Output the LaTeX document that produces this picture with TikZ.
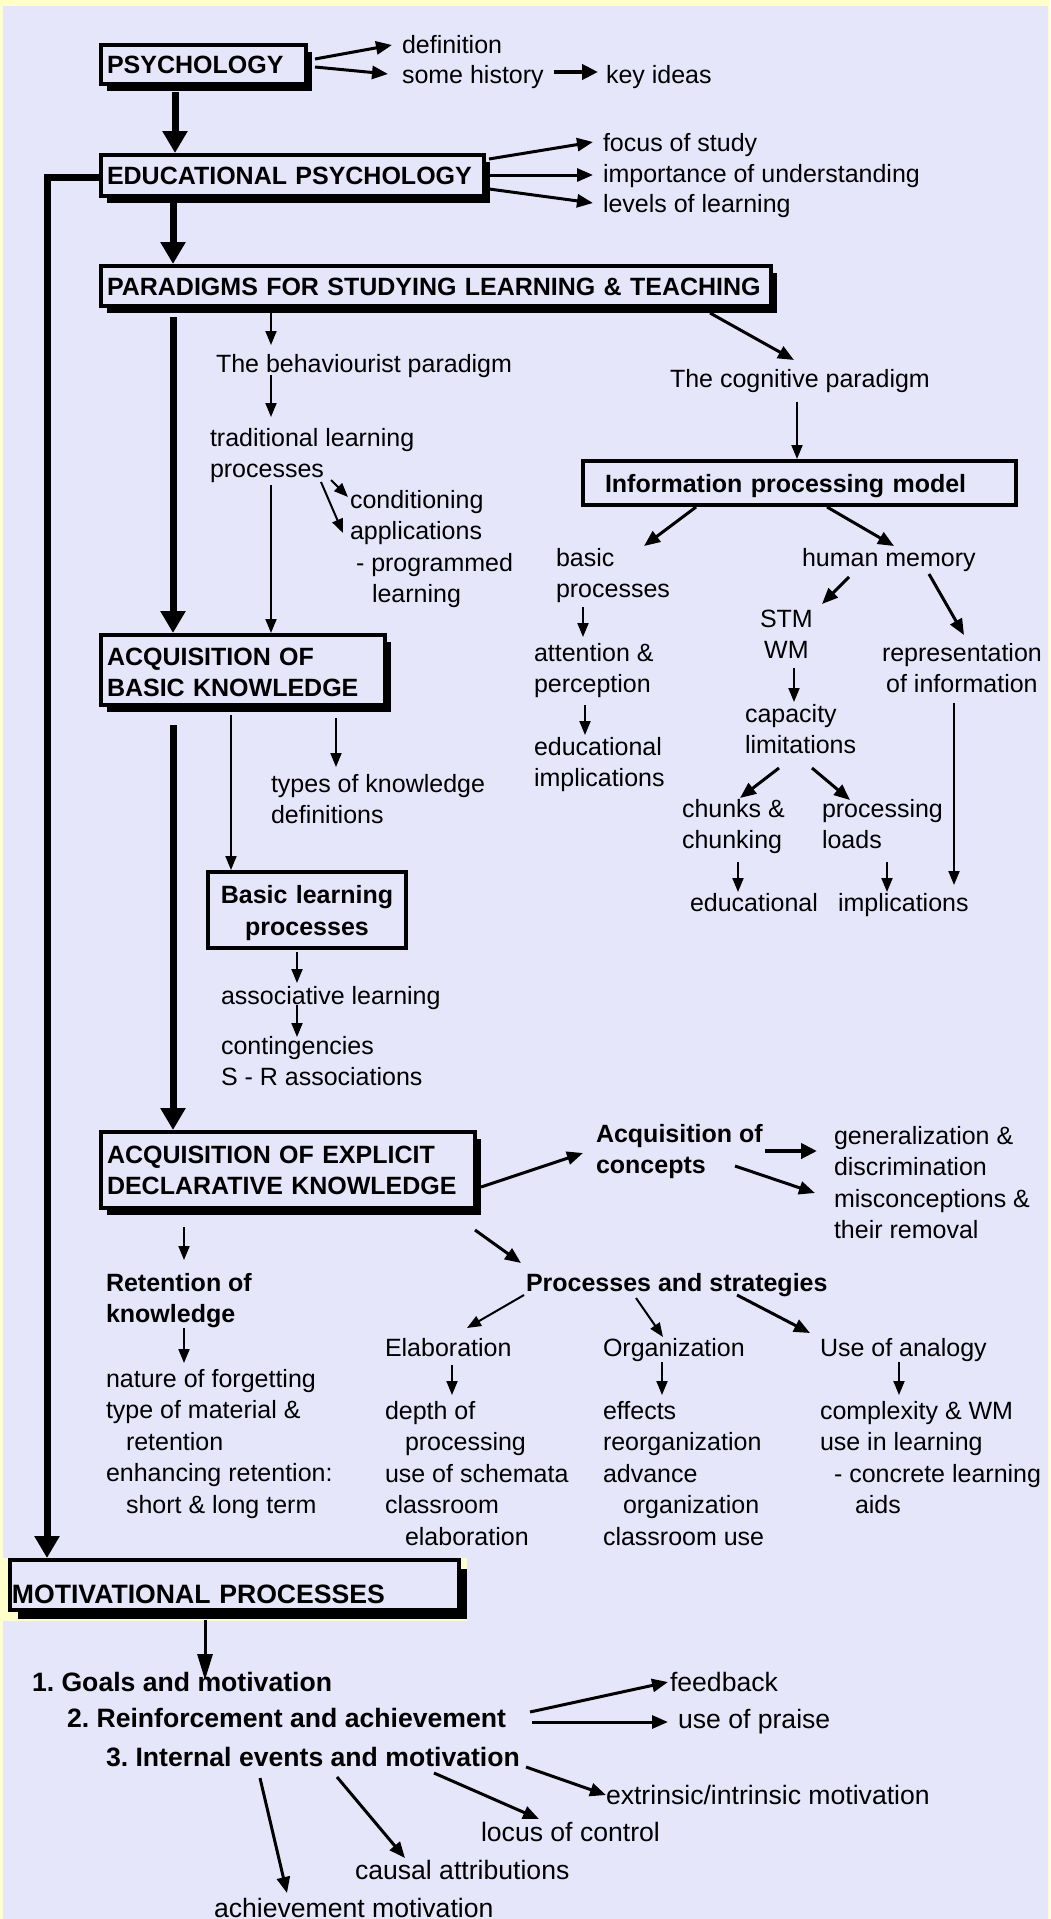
\documentclass[tikz,border=0pt]{standalone}
\usepackage{fontspec}
\setmainfont{Liberation Sans}
\usetikzlibrary{arrows.meta,calc,shadows}
\definecolor{bgyel}{HTML}{FFFFCC}
\definecolor{bglav}{HTML}{E6E6FA}
\newcommand\rf{\fontsize{25}{31.5}\selectfont\frenchspacing}
\newcommand\rfL{\fontsize{26.6}{33}\selectfont\frenchspacing}
\newcommand\stt{\rule{0pt}{19pt}}
\newcommand\sttL{\rule{0pt}{20pt}}
\frenchspacing
\begin{document}
\begin{tikzpicture}[x=1pt,y=-1pt,
  txt/.style={anchor=north west, inner sep=0pt, outer sep=0pt, align=left, font=\rf},
  btxt/.style={txt, font=\rf\bfseries},
  txtL/.style={txt, font=\rfL},
  btxtL/.style={txt, font=\rfL\bfseries},
  box/.style={draw, line width=4pt, fill=bglav, anchor=north west, outer sep=0pt,
    inner ysep=0pt, inner xsep=6pt, align=left, font=\rf\bfseries},
  shad/.style={general shadow={fill=black, shadow xshift=6pt, shadow yshift=-7pt}},
  oneline/.style={text height=18pt, text depth=0pt},
  a1/.style={line width=2pt, -{Triangle[length=14pt,width=11pt]}},
  a2/.style={line width=3pt, -{Triangle[length=16pt,width=13pt]}},
  a3/.style={line width=4.5pt, -{Triangle[length=16pt,width=15pt]}},
  am/.style={line width=3pt, -{Triangle[length=26pt,width=15pt]}},
  aT/.style={line width=7pt, -{Triangle[length=22pt,width=24pt]}}
]
\useasboundingbox (0,0) rectangle (1050,1919);
\fill[bgyel] (0,0) rectangle (1050,1919);
\fill[bglav] (3,6) rectangle (1048,1919);
\fill[bgyel] (0,1558) rectangle (467,1621);

% ---------- boxes ----------
\node[box, shad, oneline, minimum width=205pt, minimum height=39pt, text width=193pt] (psych) at (101,45) {PSYCHOLOGY};
\node[box, shad, oneline, minimum width=383pt, minimum height=41pt, text width=371pt] (edu) at (101,155) {EDUCATIONAL PSYCHOLOGY};
\node[box, shad, oneline, minimum width=670pt, minimum height=40pt, text width=658pt] (para) at (101,266) {PARADIGMS FOR STUDYING LEARNING \& TEACHING};
\node[box, shad, minimum width=284pt, minimum height=70pt, text width=272pt] (acqb) at (101,635) {\rule{0pt}{22pt}ACQUISITION OF\\BASIC KNOWLEDGE};
\node[box, line width=4.5pt, oneline, inner xsep=22pt, minimum width=433pt, minimum height=44pt, text width=389pt] (infop) at (583,461) {Information processing model};
\node[box, align=center, minimum width=198pt, minimum height=76pt, text width=186pt] (blp) at (208,872) {\rule{0pt}{24pt}Basic learning\\processes};
\node[box, shad, minimum width=374pt, minimum height=76pt, text width=362pt] (acqe) at (101,1132) {\rule{0pt}{18pt}ACQUISITION OF EXPLICIT\\DECLARATIVE KNOWLEDGE};
\node[box, font=\rfL\bfseries, general shadow={fill=black, shadow xshift=8pt, shadow yshift=-9pt}, text height=36pt, text depth=0pt, inner xsep=2pt, minimum width=449pt, minimum height=50pt, text width=445pt] (motiv) at (10,1560) {MOTIVATIONAL PROCESSES};

% ---------- text ----------
\node[txt] (def) at (402,35) {\stt definition};
\node[txt] (hist) at (402,65) {\stt some history};
\node[txt] (key) at (606,65) {\stt key ideas};
\node[txt] (focus) at (603,132) {\stt focus of study};
\node[txt] (imp) at (603,163) {\stt importance of understanding};
\node[txt] (levels) at (603,193) {\stt levels of learning};
\node[txt] (behav) at (216,353) {\stt The behaviourist paradigm};
\node[txt] (trad) at (210,427) {\stt traditional learning\\processes};
\node[txt] (cond) at (350,489) {\stt conditioning\\applications\\\hspace*{6pt}- programmed\\\hspace*{22pt}learning};
\node[txt] (cog) at (670,368) {\stt The cognitive paradigm};
\node[txt] (basic) at (556,547) {\stt basic\\processes};
\node[txt] (attn) at (534,642) {\stt attention \&\\perception};
\node[txt] (edimp) at (534,736) {\stt educational\\implications};
\node[txt] (hm) at (802,547) {\stt human memory};
\node[txt, align=center] (stm) at (760,608) {\stt STM\\WM};
\node[txt, align=center] (rep) at (882,642) {\stt representation\\of information};
\node[txt] (cap) at (745,703) {\stt capacity\\limitations};
\node[txt] (chunks) at (682,798) {\stt chunks \&\\chunking};
\node[txt] (procl) at (822,798) {\stt processing\\loads};
\node[txt] (educ) at (690,892) {\stt educational};
\node[txt] (impl) at (838,892) {\stt implications};
\node[txt] (types) at (271,773) {\stt types of knowledge\\definitions};
\node[txt] (assoc) at (221,985) {\stt associative learning};
\node[txt] (cont) at (221,1035) {\stt contingencies\\S - R associations};
\node[btxt] (acqc) at (596,1123) {\stt Acquisition of\\concepts};
\node[txt] (gen) at (834,1125) {\stt generalization \&\\discrimination\\misconceptions \&\\their removal};
\node[btxt] (ret) at (106,1272) {\stt Retention of\\knowledge};
\node[txt] (nat) at (106,1368) {\stt nature of forgetting\\type of material \&\\\hspace*{20pt}retention\\enhancing retention:\\\hspace*{20pt}short \& long term};
\node[btxt] (ps) at (526,1272) {\stt Processes and strategies};
\node[txt] (elab) at (385,1337) {\stt Elaboration};
\node[txt] (org) at (603,1337) {\stt Organization};
\node[txt] (ana) at (820,1337) {\stt Use of analogy};
\node[txt] (depth) at (385,1400) {\stt depth of\\\hspace*{20pt}processing\\use of schemata\\classroom\\\hspace*{20pt}elaboration};
\node[txt] (eff) at (603,1400) {\stt effects\\reorganization\\advance\\\hspace*{20pt}organization\\classroom use};
\node[txt] (comp) at (820,1400) {\stt complexity \& WM\\use in learning\\\hspace*{14pt}- concrete learning\\\hspace*{35pt}aids};
\node[btxtL] (goals) at (32,1671) {\sttL 1. Goals and motivation};
\node[btxtL] (reinf) at (67,1707) {\sttL 2. Reinforcement and achievement};
\node[btxtL] (internal) at (106,1746) {\sttL 3. Internal events and motivation};
\node[txtL] (feedback) at (670,1671) {\sttL feedback};
\node[txtL] (praise) at (678,1708) {\sttL use of praise};
\node[txtL] (extr) at (606,1784) {\sttL extrinsic/intrinsic motivation};
\node[txtL] (locus) at (481,1821) {\sttL locus of control};
\node[txtL] (causal) at (355,1859) {\sttL causal attributions};
\node[txtL] (achmot) at (214,1897) {\sttL achievement motivation};

% ---------- connectors ----------
\draw[a2] ($(psych.north west)+(214,14)$) -- ($(def.north west)+(-10,10)$);
\draw[a2] ($(psych.north west)+(214,22)$) -- ($(hist.north west)+(-14,9)$);
\draw[a3] ($(hist.north west)+(152,7)$) -- ($(key.north west)+(-8,7)$);
\draw[aT] ($(psych.north west)+(74,47)$) -- ($(edu.north west)+(74,-2)$);
\draw[a2] ($(edu.north west)+(388,4)$) -- ($(focus.north west)+(-10,10)$);
\draw[a2] ($(edu.north west)+(388,20)$) -- ($(imp.north west)+(-10,12)$);
\draw[a2] ($(edu.north west)+(388,34)$) -- ($(levels.north west)+(-10,10)$);
\draw[aT] ($(edu.north west)+(72,47)$) -- ($(para.north west)+(72,-2)$);
\draw[aT] ($(edu.north west)+(-2,22)$) -| ($(motiv.north west)+(37,-2)$);
\draw[aT] ($(para.north west)+(72,51)$) -- ($(acqb.north west)+(72,-2)$);
\draw[a1] ($(para.north west)+(170,47)$) -- ($(behav.north west)+(55,-8)$);
\draw[a1] ($(behav.north west)+(55,22)$) -- ($(trad.north west)+(61,-10)$);
\draw[a1] ($(trad.north west)+(61,58)$) -- ($(acqb.north west)+(170,-2)$);
\draw[a1] ($(trad.north west)+(121,53)$) -- ($(cond.north west)+(-2,8)$);
\draw[a1] ($(trad.north west)+(111,55)$) -- ($(cond.north west)+(-7,44)$);
\draw[a2] ($(para.north west)+(609,47)$) -- ($(cog.north west)+(124,-8)$);
\draw[a1] ($(cog.north west)+(127,34)$) -- ($(infop.north west)+(214,-2)$);
\draw[a2] ($(infop.north west)+(113,46)$) -- ($(basic.north west)+(88,-1)$);
\draw[a2] ($(infop.north west)+(244,46)$) -- ($(hm.north west)+(92,-1)$);
\draw[a1] ($(basic.north west)+(27,60)$) -- ($(attn.north west)+(49,-5)$);
\draw[a1] ($(attn.north west)+(51,63)$) -- ($(edimp.north west)+(51,-1)$);
\draw[a2] ($(hm.north west)+(47,30)$) -- ($(stm.north west)+(62,-4)$);
\draw[a2] ($(hm.north west)+(127,27)$) -- ($(rep.north west)+(82,-7)$);
\draw[a1] ($(stm.north west)+(34,60)$) -- ($(cap.north west)+(49,-1)$);
\draw[a1] ($(rep.north west)+(72,61)$) -- ($(impl.north west)+(116,-7)$);
\draw[a2] ($(cap.north west)+(34,65)$) -- ($(chunks.north west)+(58,0)$);
\draw[a2] ($(cap.north west)+(67,65)$) -- ($(procl.north west)+(28,2)$);
\draw[a1] ($(chunks.north west)+(56,64)$) -- ($(educ.north west)+(48,0)$);
\draw[a1] ($(procl.north west)+(65,64)$) -- ($(impl.north west)+(49,0)$);
\draw[a1] ($(acqb.north west)+(130,80)$) -- ($(blp.north west)+(23,-2)$);
\draw[a1] ($(acqb.north west)+(235,83)$) -- ($(types.north west)+(65,-6)$);
\draw[a1] ($(blp.north west)+(89,80)$) -- ($(assoc.north west)+(76,-2)$);
\draw[a1] ($(assoc.north west)+(76,20)$) -- ($(cont.north west)+(76,2)$);
\draw[aT] ($(acqb.north west)+(72,90)$) -- ($(acqe.north west)+(72,-2)$);
\draw[a2] ($(acqe.north west)+(380,55)$) -- ($(acqc.north west)+(-13,30)$);
\draw[a3] ($(acqc.north west)+(169,28)$) -- ($(gen.north west)+(-17,26)$);
\draw[a2] ($(acqc.north west)+(139,43)$) -- ($(gen.north west)+(-19,68)$);
\draw[a1] ($(acqe.north west)+(83,95)$) -- ($(ret.north west)+(78,-12)$);
\draw[a1] ($(ret.north west)+(78,56)$) -- ($(nat.north west)+(78,-5)$);
\draw[a2] ($(acqe.north west)+(374,98)$) -- ($(ps.north west)+(-5,-9)$);
\draw[a1] ($(ps.north west)+(-2,23)$) -- ($(elab.north west)+(82,-9)$);
\draw[a1] ($(ps.north west)+(110,26)$) -- ($(org.north west)+(60,0)$);
\draw[a2] ($(ps.north west)+(211,23)$) -- ($(ana.north west)+(-10,-4)$);
\draw[a1] ($(elab.north west)+(67,28)$) -- ($(depth.north west)+(67,-5)$);
\draw[a1] ($(org.north west)+(59,25)$) -- ($(eff.north west)+(59,-5)$);
\draw[a1] ($(ana.north west)+(79,25)$) -- ($(comp.north west)+(79,-5)$);
\draw[am] ($(motiv.north west)+(195,60)$) -- ($(goals.north west)+(173,9)$);
\draw[a2] ($(reinf.north west)+(463,5)$) -- ($(feedback.north west)+(-2,11)$);
\draw[a2] ($(reinf.north west)+(465,15)$) -- ($(praise.north west)+(-10,14)$);
\draw[a2] ($(internal.north west)+(420,21)$) -- ($(extr.north west)+(0,11)$);
\draw[a2] ($(internal.north west)+(328,27)$) -- ($(locus.north west)+(58,-2)$);
\draw[a2] ($(internal.north west)+(231,31)$) -- ($(causal.north west)+(50,-1)$);
\draw[a2] ($(internal.north west)+(154,32)$) -- ($(achmot.north west)+(73,-4)$);
\end{tikzpicture}
\end{document}
